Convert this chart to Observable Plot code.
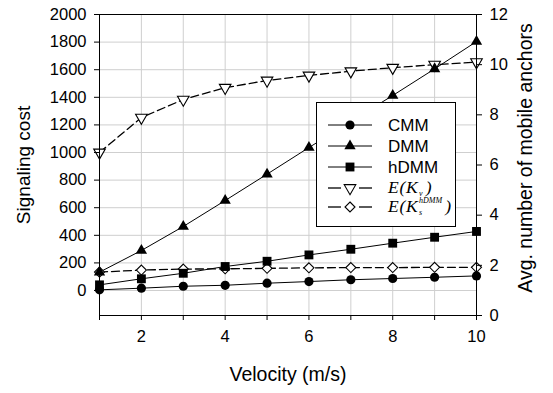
<!DOCTYPE html>
<html><head><meta charset="utf-8">
<script src="https://cdn.jsdelivr.net/npm/d3@7"></script>
<script src="https://cdn.jsdelivr.net/npm/@observablehq/plot@0.6"></script>
<style>body{margin:0;background:#fff} #chart{width:553px;height:393px}</style>
</head><body><div id="chart"></div>
<script>
// ---- data ----
const velocity = [1, 2, 3, 4, 5, 6, 7, 8, 9, 10];
const cmm  = [5, 17, 31, 38, 53, 65, 78, 87, 96, 106];
const dmm  = [133, 290, 464, 652, 843, 1036, 1225, 1413, 1606, 1804];
const hdmm = [41, 85, 125, 174, 212, 258, 299, 343, 386, 428];
// right axis (avg. number of mobile anchors)
const eKv  = [6.50, 7.89, 8.61, 9.08, 9.37, 9.57, 9.74, 9.88, 10.00, 10.10];
const eKs  = [1.73, 1.81, 1.85, 1.86, 1.88, 1.90, 1.91, 1.91, 1.92, 1.92];

const leftTicks  = [0, 200, 400, 600, 800, 1000, 1200, 1400, 1600, 1800, 2000];
const rightTicks = [0, 2, 4, 6, 8, 10, 12];
const xTicks     = [1, 2, 3, 4, 5, 6, 7, 8, 9, 10];

const yMin = -181, yMax = 2000, rMax = 12;
const toLeft = r => yMin + r / rMax * (yMax - yMin);

const series = [
  {name: "CMM",  values: cmm,  right: false},
  {name: "DMM",  values: dmm,  right: false},
  {name: "hDMM", values: hdmm, right: false},
  {name: "EKv",  values: eKv,  right: true},
  {name: "EKs",  values: eKs,  right: true}
];
const rows = series.flatMap(s => s.values.map((v, i) => ({
  series: s.name, v: velocity[i], y: s.right ? toLeft(v) : v
})));
const of = name => rows.filter(d => d.series === name);

const triangleDown = {
  draw(ctx, size) {
    const s = Math.sqrt(size / (Math.sqrt(3) / 4));
    const h = s * Math.sqrt(3) / 2;
    ctx.moveTo(0, 2 * h / 3);
    ctx.lineTo(s / 2, -h / 3);
    ctx.lineTo(-s / 2, -h / 3);
    ctx.closePath();
  }
};

const dash = "8,4";
const chart = Plot.plot({
  width: 553, height: 393,
  marginLeft: 99, marginRight: 77, marginTop: 14, marginBottom: 78,
  style: {fontFamily: "'Liberation Sans', Arial, sans-serif", fontSize: "16.5px", color: "#000", background: "#fff"},
  x: {domain: [1, 10]},
  y: {domain: [yMin, yMax]},
  marks: [
    Plot.gridX(xTicks, {stroke: "#cfcfcf", strokeOpacity: 1, strokeWidth: 1}),
    Plot.gridY(leftTicks, {stroke: "#cfcfcf", strokeOpacity: 1, strokeWidth: 1}),
    Plot.line(of("EKv"), {x: "v", y: "y", stroke: "#000", strokeWidth: 1.3, strokeDasharray: dash}),
    Plot.line(of("EKs"), {x: "v", y: "y", stroke: "#000", strokeWidth: 1.3, strokeDasharray: dash}),
    Plot.line(of("CMM"), {x: "v", y: "y", stroke: "#000", strokeWidth: 1}),
    Plot.line(of("DMM"), {x: "v", y: "y", stroke: "#000", strokeWidth: 1}),
    Plot.line(of("hDMM"), {x: "v", y: "y", stroke: "#000", strokeWidth: 1}),
    Plot.dot(of("EKv"), {x: "v", y: "y", symbol: triangleDown, r: 4.3, fill: "#fff", stroke: "#000", strokeWidth: 1.1}),
    Plot.dot(of("EKs"), {x: "v", y: "y", symbol: "diamond2", r: 4.5, fill: "#fff", stroke: "#000", strokeWidth: 1.1}),
    Plot.dot(of("CMM"), {x: "v", y: "y", symbol: "circle", r: 4.6, fill: "#000", stroke: "none"}),
    Plot.dot(of("DMM"), {x: "v", y: "y", symbol: "triangle", r: 4.2, fill: "#000", stroke: "none"}),
    Plot.dot(of("hDMM"), {x: "v", y: "y", symbol: "square", r: 5.0, fill: "#000", stroke: "none"}),
    Plot.frame({stroke: "#000", strokeWidth: 1}),
    Plot.axisY(leftTicks, {anchor: "left", tickSize: 5, tickPadding: 8, label: null, tickFormat: d => String(d)}),
    Plot.axisY(rightTicks.map(toLeft), {anchor: "right", tickSize: 5, tickPadding: 8, label: null,
      tickFormat: d => String(Math.round((d - yMin) / (yMax - yMin) * rMax))}),
    Plot.axisX(xTicks, {anchor: "bottom", tickSize: 5, tickPadding: 10, label: null,
      tickFormat: d => d % 2 === 0 ? String(d) : ""})
  ]
});
document.getElementById("chart").appendChild(chart);

const svg = d3.select(chart);
const sans = "'Liberation Sans', Arial, sans-serif";
const serif = "'Liberation Serif', 'Times New Roman', serif";

// axis titles
svg.append("text").attr("transform", "translate(25,165) rotate(-90)")
  .attr("text-anchor", "middle").attr("dominant-baseline", "middle")
  .attr("font-family", sans).attr("font-size", 19).attr("fill", "#000").text("Signaling cost");
svg.append("text").attr("transform", "translate(527,158) rotate(-90)")
  .attr("text-anchor", "middle").attr("dominant-baseline", "middle")
  .attr("font-family", sans).attr("font-size", 19.5).attr("fill", "#000").text("Avg. number of mobile anchors");
svg.append("text").attr("x", 288).attr("y", 376)
  .attr("text-anchor", "middle").attr("dominant-baseline", "middle")
  .attr("font-family", sans).attr("font-size", 19.5).attr("fill", "#000").text("Velocity (m/s)");

// legend
const lg = svg.append("g").attr("text-anchor", "start");
lg.append("rect").attr("x", 316.5).attr("y", 102.5).attr("width", 139).attr("height", 124)
  .attr("fill", "#fff").attr("stroke", "#000").attr("stroke-width", 1);
const ly = [125, 146, 167, 188, 207];
const sym = (type, size) => d3.symbol().type(type).size(size)();
const diamond2 = {draw(ctx, size){ const r = Math.sqrt(size) * 0.62625; ctx.moveTo(0,-r); ctx.lineTo(r,0); ctx.lineTo(0,r); ctx.lineTo(-r,0); ctx.closePath(); }};
const entries = [
  {label: "CMM", dashed: false, path: sym(d3.symbolCircle, Math.PI * 4.6 * 4.6), fill: "#000"},
  {label: "DMM", dashed: false, path: sym(d3.symbolTriangle, Math.PI * 4.2 * 4.2), fill: "#000"},
  {label: "hDMM", dashed: false, path: sym(d3.symbolSquare, Math.PI * 5 * 5), fill: "#000"},
  {label: "EKv", dashed: true, path: sym(triangleDown, Math.PI * 4.3 * 4.3), fill: "#fff"},
  {label: "EKs", dashed: true, path: sym(diamond2, Math.PI * 4.5 * 4.5), fill: "#fff"}
];
const txt = (x, y, size, family, italic, s) => lg.append("text")
  .attr("x", x).attr("y", y).attr("text-anchor", "start")
  .attr("font-family", family).attr("font-style", italic ? "italic" : "normal")
  .attr("font-size", size).attr("fill", "#000").text(s);
entries.forEach((e, i) => {
  const y = ly[i];
  if (e.dashed) {
    lg.append("line").attr("x1", 328).attr("x2", 341).attr("y1", y).attr("y2", y).attr("stroke", "#000").attr("stroke-width", 1.3);
    lg.append("line").attr("x1", 359).attr("x2", 372).attr("y1", y).attr("y2", y).attr("stroke", "#000").attr("stroke-width", 1.3);
  } else {
    lg.append("line").attr("x1", 328).attr("x2", 372).attr("y1", y).attr("y2", y).attr("stroke", "#000").attr("stroke-width", 1);
  }
  lg.append("path").attr("d", e.path).attr("transform", `translate(350,${y})`)
    .attr("fill", e.fill).attr("stroke", e.fill === "#fff" ? "#000" : "none").attr("stroke-width", 1.1);
  if (!e.label.startsWith("E")) {
    txt(388, y + 6, 17, sans, false, e.label);
  } else {
    const base = txt(388, y + 5, 17.5, serif, true, "E(K").attr("letter-spacing", 0.8);
    const w = base.node().getComputedTextLength();
    const sx = 388 + w + 0.5;
    const sub = txt(sx, y + 8, 8, serif, true, e.label === "EKv" ? "v" : "s");
    let endX = sx + sub.node().getComputedTextLength();
    if (e.label === "EKs") {
      const sup = txt(sx, y - 4, 8, serif, true, "hDMM");
      endX = Math.max(endX, sx + sup.node().getComputedTextLength());
    }
    txt(endX + 3, y + 5, 17.5, serif, true, ")");
  }
});
</script>
</body></html>
